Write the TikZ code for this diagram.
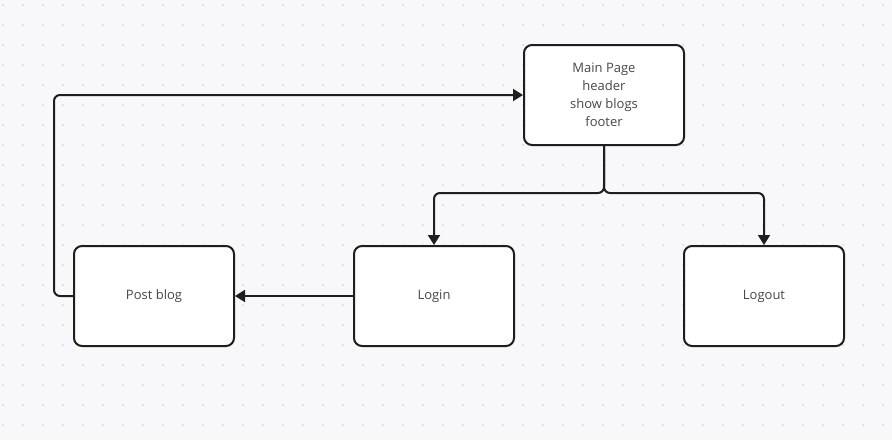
\documentclass[tikz,border=0pt]{standalone}
\usepackage{fontspec}
\setmainfont{Open Sans}
\usetikzlibrary{arrows.meta}
\definecolor{paper}{HTML}{F8F8FA}
\definecolor{griddot}{HTML}{D6D6DC}
\definecolor{ink}{HTML}{1E1E1E}
\definecolor{label}{HTML}{474747}
\tikzset{
  page/.style={draw=ink, line width=2pt, rounded corners=8pt, fill=white,
    minimum width=160pt, minimum height=100pt, align=center, text=label,
    font=\fontsize{13}{18}\selectfont},
  link/.style={draw=ink, line width=2pt, rounded corners=6pt,
    -{Triangle[length=10pt, width=12pt]}}
}
\begin{document}
\begin{tikzpicture}[x=1pt, y=-1pt]
    \newcommand\PW{892}
    \newcommand\PH{440}
    \newcommand\YT{95}
    \newcommand\YB{296}
    \fill[paper] (0,0) rectangle (\PW,\PH);
    \foreach \i in {0,...,44}
      \foreach \j in {0,...,21}
        \fill[griddot] (3+20*\i, 5+20*\j) circle (1pt);
    \node[page] (Main) at (604, \YT){Main Page\\header\\show blogs\\footer};
    \node[page] (Post) at (154, \YB){Post blog};
    \node[page] (Login) at (434, \YB){Login};
    \node[page] (Logout) at (764, \YB){Logout};
    \coordinate (Split) at (604, 193);
    \coordinate (Back) at (54, \YB);
    \draw[link] (Main.south) -- (Split) -| (Login.north);
    \draw[link] (Main.south) -- (Split) -| (Logout.north);
    \draw[link] (Login.west) -- (Post.east);
    \draw[link] (Post.west) -- (Back) |- (Main.west);
\end{tikzpicture}
\end{document}
